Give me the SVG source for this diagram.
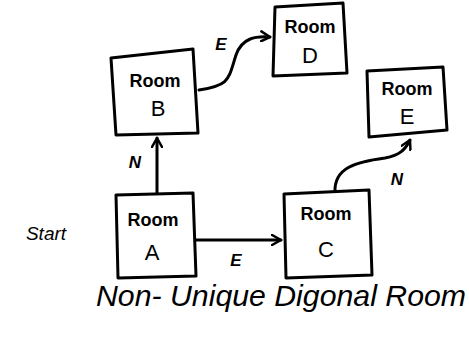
<svg xmlns="http://www.w3.org/2000/svg" width="469" height="339" viewBox="0 0 469 339">
<defs>
<marker id="ah" viewBox="0 0 12 12" refX="10" refY="6" markerWidth="12" markerHeight="12" markerUnits="userSpaceOnUse" orient="auto">
<path d="M1,1 L10,6 L1,11" fill="none" stroke="#000" stroke-width="2.5" stroke-linecap="round" stroke-linejoin="round"/>
</marker>
<style>
.box{fill:#fff;stroke:#000;stroke-width:3;stroke-linejoin:round}
.t{font-family:"Liberation Sans",Arial,sans-serif;font-size:18px;font-weight:bold;text-anchor:middle;fill:#000}
.big{font-family:"Liberation Sans",Arial,sans-serif;font-size:22px;text-anchor:middle;fill:#000}
.lbl{font-family:"Liberation Sans",Arial,sans-serif;font-size:17px;font-style:italic;font-weight:bold;text-anchor:middle;fill:#000}
.c{fill:none;stroke:#000;stroke-width:3;stroke-linecap:round}
</style>
</defs>
<rect width="469" height="339" fill="#fff"/>
<g id="connectors">
<path class="c" d="M157,193 L157,138" marker-end="url(#ah)"/>
<path class="c" d="M199,90 C230,85 228,80 236,55 C242,38 255,36 270,37" marker-end="url(#ah)"/>
<path class="c" d="M196,240 L281,240" marker-end="url(#ah)"/>
<path class="c" d="M335,192 C334,168 355,162 385,158 C400,155 405,150 410,140" marker-end="url(#ah)"/>
<text class="lbl" x="221" y="50">E</text>
<text class="lbl" x="135" y="168">N</text>
<text class="lbl" x="397" y="185">N</text>
<text class="lbl" x="236" y="266">E</text>
</g>
<g id="roomB">
<path class="box" d="M111,58 L193,49 L198,133 L116,135 Z"/>
<text class="t" x="155" y="87">Room</text>
<text class="big" x="158" y="116">B</text>
</g>
<g id="roomD">
<path class="box" d="M275,7 L343,3 L347,73 L273,76 Z"/>
<text class="t" x="310" y="33">Room</text>
<text class="big" x="310" y="63">D</text>
</g>
<g id="roomE">
<path class="box" d="M367,71 L443,67 L447,130 L369,137 Z"/>
<text class="t" x="407" y="95">Room</text>
<text class="big" x="407" y="124">E</text>
</g>
<g id="roomA">
<path class="box" d="M116,195 L193,193 L196,276 L118,278 Z"/>
<text class="t" x="153" y="226">Room</text>
<text class="big" x="152" y="260">A</text>
</g>
<g id="roomC">
<path class="box" d="M284,194 L369,190 L372,275 L286,278 Z"/>
<text class="t" x="326" y="220">Room</text>
<text class="big" x="326" y="257">C</text>
</g>
<g id="start">
<text x="46" y="240" style="font-family:'Liberation Sans',Arial,sans-serif;font-size:19px;font-style:italic;text-anchor:middle;fill:#000">Start</text>
</g>
<g id="title">
<text x="96" y="306" textLength="370" lengthAdjust="spacingAndGlyphs" style="font-family:'Liberation Sans',Arial,sans-serif;font-size:29px;font-style:italic;fill:#000">Non- Unique Digonal Room</text>
</g>
</svg>
